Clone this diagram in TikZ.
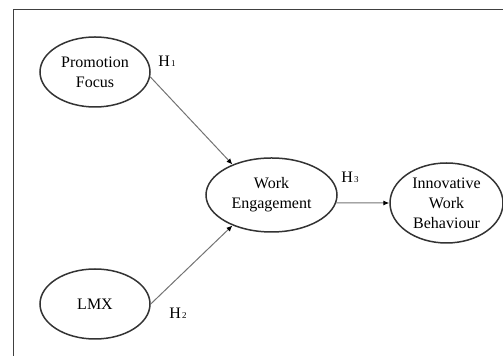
\documentclass[tikz,border=0pt]{standalone}
\usepackage{fontspec}
\setmainfont{Liberation Serif}
\usetikzlibrary{shapes.geometric,arrows.meta}

\begin{document}
\begin{tikzpicture}[x=0.5pt,y=-0.5pt,
    construct/.style={draw=black!80,line width=0.75pt,ellipse,inner sep=0pt,align=center,
      font=\fontsize{8}{10}\selectfont},
    path/.style={draw=black!55,line width=0.5pt,-{Latex[length=3pt,width=2.6pt,color=black]}},
    hyp/.style={inner sep=0pt,font=\fontsize{8}{10}\selectfont}]
          \useasboundingbox (0,0) rectangle (503,356);
          \draw [black!75,line width=0.4pt] (13,356) -- (13,9) -- (503,9);
          \node [construct,minimum width=55pt,minimum height=35pt] (pf) at (95,72) {Promotion\\Focus};
          \node [construct,minimum width=55pt,minimum height=35pt] (lmx) at (95,304) {LMX};
          \node [construct,minimum width=65.5pt,minimum height=37pt] (we) at (271.5,195) {Work\\Engagement};
          \node [construct,minimum width=56.5pt,minimum height=40pt] (iwb) at (446.5,203) {Innovative\\Work\\Behaviour};
          \node [hyp] (h1) at (167,61) {H\kern0.6pt{\fontsize{4.5}{5}\selectfont 1}};
          \node [hyp] (h2) at (178,313) {H\kern0.6pt{\fontsize{4.5}{5}\selectfont 2}};
          \node [hyp] (h3) at (350,177) {H\kern0.6pt{\fontsize{4.5}{5}\selectfont 3}};
          \draw [path] (pf.-5) -- (we.142);
          \draw [path] (lmx.east) -- (we.218);
          \draw [path] (we.-7) -- (iwb.west);
\end{tikzpicture}
\end{document}
